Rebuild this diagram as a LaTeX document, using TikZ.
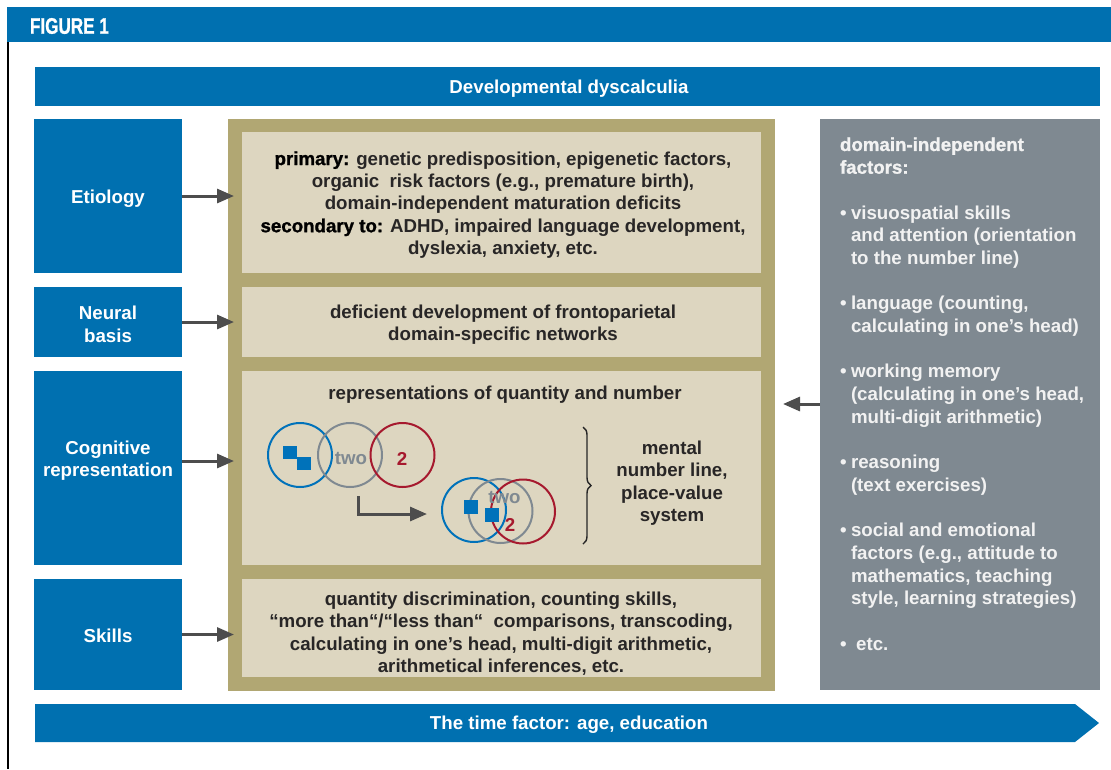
\documentclass[tikz,border=0pt]{standalone}
\usepackage{fontspec}
\usepackage{graphicx}
\setmainfont{Liberation Sans}
\usetikzlibrary{arrows.meta,calc,decorations.pathreplacing}
\definecolor{dblue}{RGB}{0,112,176}
\definecolor{cblue}{RGB}{0,114,186}
\definecolor{tanc}{RGB}{177,167,115}
\definecolor{tanl}{RGB}{221,214,192}
\definecolor{pgray}{RGB}{127,137,145}
\definecolor{agray}{RGB}{77,77,77}
\definecolor{cred}{RGB}{166,25,46}
\definecolor{btext}{RGB}{40,38,38}
\definecolor{ptext}{RGB}{242,242,242}
\newcommand\myfs{\fontsize{18.7}{22.4}\selectfont}
\newcommand\panfs{\fontsize{18.7}{22.7}\selectfont}
\newcommand\heavy{\addfontfeature{FakeBold=1.2}}
\newcommand\bul{\makebox[11pt][l]{\textbullet}}
\newcommand\ind{\hspace*{11pt}}
\begin{document}
\begin{tikzpicture}[x=1pt,y=-1pt,
  every node/.style={inner sep=0pt, outer sep=0pt},
  bluebox/.style={fill=dblue, minimum width=148pt},
  lightbox/.style={fill=tanl, minimum width=519pt},
  wtext/.style={text=white, font=\myfs\bfseries, align=center},
  btxt/.style={text=btext, font=\myfs\bfseries, align=center},
  arr/.style={draw=agray, line width=3pt, -{Triangle[length=17pt,width=14pt]}},
  circ/.style={circle, line width=2pt, minimum size=64pt},
]
\useasboundingbox (0,0) rectangle (1111,769);
% header
\fill[dblue] (7,7) rectangle (1111,42);
\node[text=white, font=\fontsize{22.5}{22.5}\selectfont\bfseries, anchor=west] (fig) at (30,26) {\heavy\scalebox{0.76}[1]{FIGURE 1}};
\draw[black, line width=2pt] (8,42) -- (8,769);
% top bar
\node[fill=dblue, minimum width=1065pt, minimum height=39pt] (top) at (567.5,86.5) {};
\node[wtext] (topt) at (569,89) {Developmental dyscalculia};
% left boxes
\node[bluebox, minimum height=154pt] (eti) at (108,196) {};
\node[wtext] (etit) at (108,198.5) {Etiology};
\node[bluebox, minimum height=70pt] (neu) at (108,322) {};
\node[wtext] (neut) at (108,324.5) {Neural\\basis};
\node[bluebox, minimum height=194pt] (cog) at (108,468) {};
\node[wtext] (cogt) at (108,460.5) {Cognitive\\representation};
\node[bluebox, minimum height=111pt] (ski) at (108,634.5) {};
\node[wtext] (skit) at (108,635.5) {Skills};
% tan frame
\node[fill=tanc, minimum width=547pt, minimum height=572pt] (tan) at (501.5,405) {};
\node[lightbox, minimum height=141pt] (b1) at (501.5,202.5) {};
\node[lightbox, minimum height=70pt] (b2) at (501.5,322) {};
\node[lightbox, minimum height=194pt] (b3) at (501.5,468) {};
\node[lightbox, minimum height=98pt] (b4) at (501.5,628) {};
\node[btxt] (b1t) at (503,205) {{\heavy\color{black}primary:} genetic predisposition, epigenetic factors,\\
organic\ \ risk factors (e.g., premature birth),\\
domain-independent maturation deficits\\
{\heavy\color{black}secondary to:} ADHD, impaired language development,\\
dyslexia, anxiety, etc.};
\node[btxt] (b2t) at (503,324.5) {deficient development of frontoparietal\\domain-specific networks};
\node[btxt] (b3t) at (505,394.5) {representations of quantity and number};
\node[btxt] (b4t) at (501,633.5) {quantity discrimination, counting skills,\\
“more than“/“less than“\ \ comparisons, transcoding,\\
calculating in one’s head, multi-digit arithmetic,\\
arithmetical inferences, etc.};
% circles group 1
\node[circ, draw=cblue] (c1) at (300,455) {};
\node[circ, draw=pgray] (c2) at (350,455) {};
\node[circ, draw=cred] (c3) at (402.5,455) {};
\fill[cblue] (283,446) rectangle (297,459);
\fill[cblue] (297,457) rectangle (311,470);
\node[text=pgray, font=\myfs\bfseries] (two1) at (351,458.5) {two};
\node[text=cred, font=\myfs\bfseries] (n1) at (402,458.5) {2};
% circles group 2
\node[circ, draw=cblue] (d1) at (474,510) {};
\node[circ, draw=pgray] (d2) at (500.5,511) {};
\node[circ, draw=cred] (d3) at (523,511.5) {};
\fill[cblue] (464,500) rectangle (478,514);
\fill[cblue] (485,508) rectangle (499,522);
\node[text=pgray, font=\myfs\bfseries] (two2) at (504.5,497.5) {two};
\node[text=cred, font=\myfs\bfseries] (n2) at (510,524.5) {2};
% elbow arrow
\coordinate (e0) at (358,496);
\coordinate (e1) at (427,514);
\draw[arr] (e0) |- (e1);
% brace
\coordinate (br0) at (583,427);
\coordinate (br1) at (583,544);
\draw[decorate, decoration={brace, amplitude=8pt}, line width=1.4pt, black!85] (br0) -- (br1);
\node[btxt] (mnl) at (672,483) {mental\\number line,\\place-value\\system};
% right panel
\node[fill=pgray, minimum width=280pt, minimum height=571pt] (pan) at (960,404.5) {};
\node[text=ptext, font=\panfs\bfseries, align=left, anchor=west] (pant) at (840,394) {{\heavy domain-independent}\\
{\heavy factors:}\\[22.7pt]
\bul visuospatial skills\\
\ind and attention (orientation\\
\ind to the number line)\\[22.7pt]
\bul language (counting,\\
\ind calculating in one’s head)\\[22.7pt]
\bul working memory\\
\ind (calculating in one’s head,\\
\ind multi-digit arithmetic)\\[22.7pt]
\bul reasoning\\
\ind (text exercises)\\[22.7pt]
\bul social and emotional\\
\ind factors (e.g., attitude to\\
\ind mathematics, teaching\\
\ind style, learning strategies)\\[22.7pt]
\bul\ etc.};
% connectors
\draw[arr] (eti.east) -- ($(tan.west |- eti.east)+(6,0)$);
\draw[arr] (neu.east) -- ($(tan.west |- neu.east)+(6,0)$);
\draw[arr] ($(cog.east)+(0,-7)$) -- ($(tan.west |- cog.east)+(6,-7)$);
\draw[arr] (ski.east) -- ($(tan.west |- ski.east)+(6,0)$);
\draw[arr] ($(pan.west)+(0,-0.5)$) -- ($(tan.east |- pan.west)+(8,-0.5)$);
% bottom arrow
\fill[dblue] (35,704) -- (1075,704) -- (1099,723) -- (1075,742) -- (35,742) -- cycle;
\node[wtext] (timet) at (569,724.5) {The time factor: age, education};
\end{tikzpicture}
\end{document}
